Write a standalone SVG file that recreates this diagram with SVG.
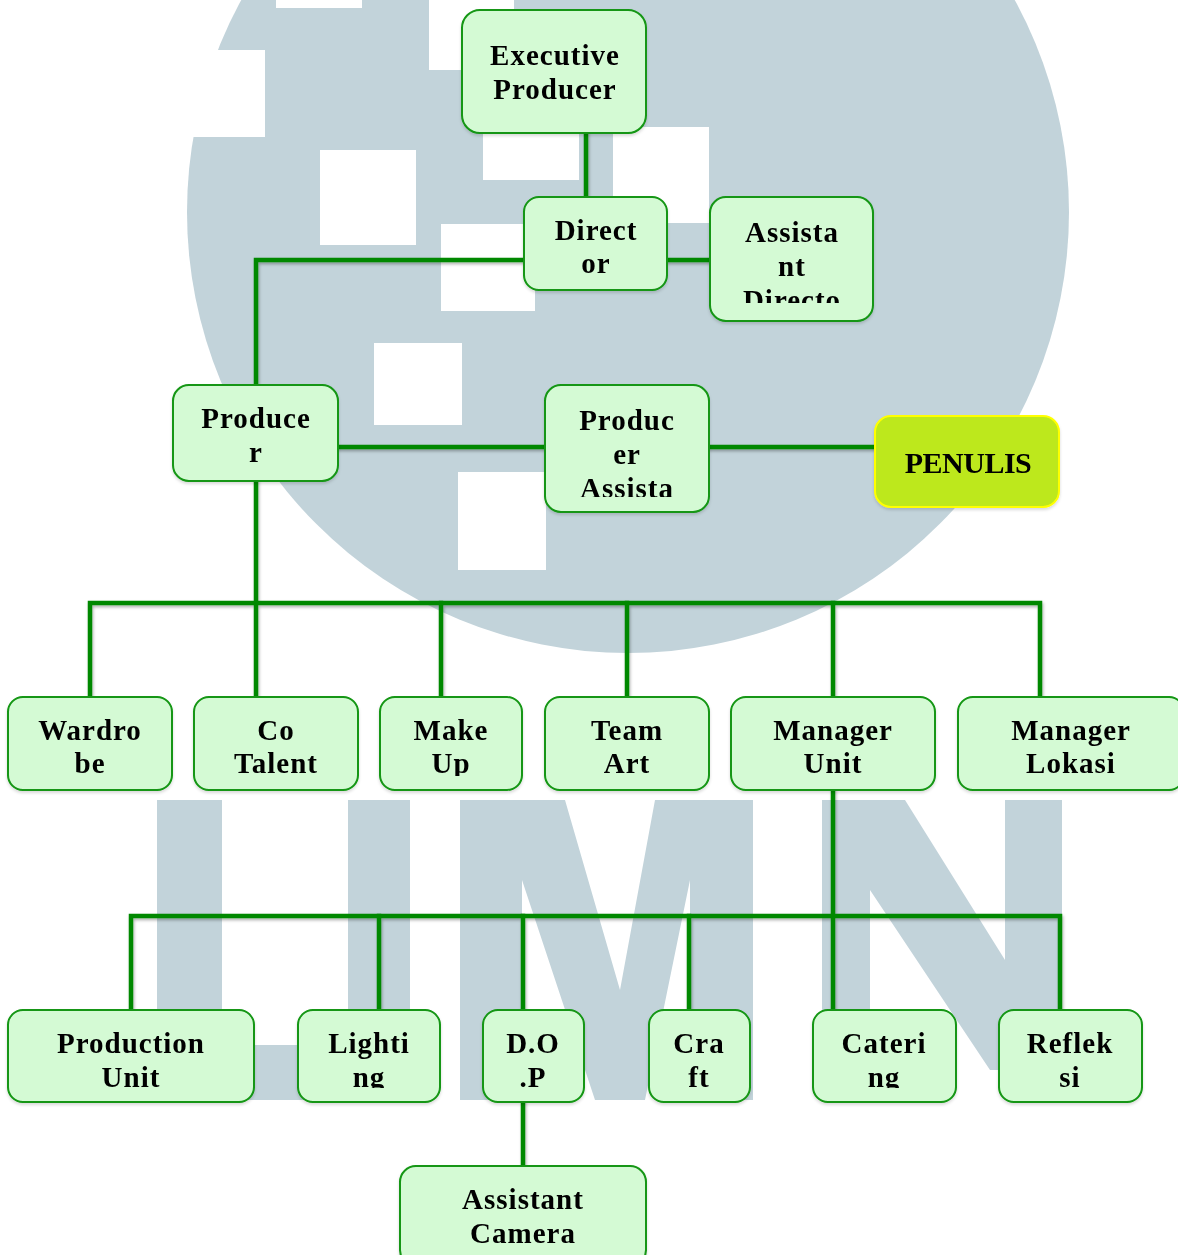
<svg xmlns="http://www.w3.org/2000/svg" width="1178" height="1255" viewBox="0 0 1178 1255">
<style>
.wm{fill:#c2d3da}
.wh{fill:#ffffff}
.node{fill:#d4fad4;stroke:#129612;stroke-width:2}
.pen{fill:#bde81c;stroke:#ffff00;stroke-width:2}
.t{font-family:"Liberation Serif","Times New Roman",serif;font-weight:bold;font-size:29px;letter-spacing:1px;fill:#000;text-anchor:middle}
.tp{font-family:"Liberation Serif","Times New Roman",serif;font-weight:bold;font-size:30px;letter-spacing:-0.5px;fill:#000;text-anchor:middle}
.ln{fill:none;stroke:#068806;stroke-width:4.5;stroke-linecap:square}
</style>
<defs>
<filter id="sh" x="-5%" y="-5%" width="110%" height="110%">
<feDropShadow dx="1" dy="2" stdDeviation="1.5" flood-color="#000" flood-opacity="0.3"/>
</filter>
<filter id="nsh" x="-5%" y="-5%" width="110%" height="115%">
<feDropShadow dx="0" dy="2" stdDeviation="1.5" flood-color="#000" flood-opacity="0.15"/>
</filter>
<clipPath id="c-ad"><rect x="710" y="197" width="163" height="106"/></clipPath>
<clipPath id="c-pa"><rect x="545" y="385" width="164" height="112"/></clipPath>
<clipPath id="c-mu"><rect x="380" y="697" width="142" height="79"/></clipPath>
<clipPath id="c-li"><rect x="298" y="1010" width="142" height="78"/></clipPath>
<clipPath id="c-ca"><rect x="813" y="1010" width="143" height="78"/></clipPath>
</defs>
<rect width="1178" height="1255" fill="#ffffff"/>
<g id="watermark">
<circle class="wm" cx="628" cy="212" r="441"/>
<rect class="wh" x="180" y="50" width="85" height="87"/>
<rect class="wh" x="276" y="0" width="86" height="8"/>
<rect class="wh" x="429" y="0" width="85" height="70"/>
<rect class="wh" x="320" y="150" width="96" height="95"/>
<rect class="wh" x="483" y="128" width="96" height="52"/>
<rect class="wh" x="613" y="127" width="96" height="96"/>
<rect class="wh" x="441" y="224" width="94" height="87"/>
<rect class="wh" x="374" y="343" width="88" height="82"/>
<rect class="wh" x="458" y="472" width="88" height="98"/>
<path class="wm" d="M157,800 H222 V1045 H348 V800 H410 V1100 H157 Z"/>
<path class="wm" d="M460,800 H565 L620,990 L655,800 H753 V1100 H690 V880 L645,1100 H595 L522,880 V1100 H460 Z"/>
<path class="wm" d="M822,800 H905 L1005,960 V800 H1062 V1070 H990 L870,890 V1085 H822 Z"/>
</g>
<g id="connectors" filter="url(#sh)">
<path class="ln" d="M586,133 V197"/>
<path class="ln" d="M667,260 H710"/>
<path class="ln" d="M524,260 H256 V385"/>
<path class="ln" d="M338,447 H545"/>
<path class="ln" d="M709,447 H875"/>
<path class="ln" d="M256,481 V697"/>
<path class="ln" d="M90,697 V603 H1040 V697"/>
<path class="ln" d="M441,603 V697"/>
<path class="ln" d="M627,603 V697"/>
<path class="ln" d="M833,603 V697"/>
<path class="ln" d="M833,790 V1010"/>
<path class="ln" d="M131,1010 V916 H1060 V1010"/>
<path class="ln" d="M379,916 V1010"/>
<path class="ln" d="M523,916 V1010"/>
<path class="ln" d="M689,916 V1010"/>
<path class="ln" d="M523,1102 V1166"/>
</g>
<g id="n-executive-producer" filter="url(#nsh)"><rect class="node" x="462" y="10" width="184" height="123" rx="18"/><text class="t" x="555" y="65">Executive</text><text class="t" x="555" y="99">Producer</text></g>
<g id="n-director" filter="url(#nsh)"><rect class="node" x="524" y="197" width="143" height="93" rx="15"/><text class="t" x="596" y="240">Direct</text><text class="t" x="596" y="273">or</text></g>
<g id="n-assistant-director" filter="url(#nsh)"><rect class="node" x="710" y="197" width="163" height="124" rx="16"/><g clip-path="url(#c-ad)"><text class="t" x="792" y="242">Assista</text><text class="t" x="792" y="276">nt</text><text class="t" x="792" y="310">Directo</text></g></g>
<g id="n-producer" filter="url(#nsh)"><rect class="node" x="173" y="385" width="165" height="96" rx="16"/><text class="t" x="256" y="428">Produce</text><text class="t" x="256" y="462">r</text></g>
<g id="n-producer-assistant" filter="url(#nsh)"><rect class="node" x="545" y="385" width="164" height="127" rx="16"/><g clip-path="url(#c-pa)"><text class="t" x="627" y="430">Produc</text><text class="t" x="627" y="464">er</text><text class="t" x="627" y="498">Assista</text></g></g>
<g id="n-penulis" filter="url(#nsh)"><rect class="pen" x="875" y="416" width="184" height="91" rx="16"/><text class="tp" x="968" y="473">PENULIS</text></g>
<g id="n-wardrobe" filter="url(#nsh)"><rect class="node" x="8" y="697" width="164" height="93" rx="15"/><text class="t" x="90" y="740">Wardro</text><text class="t" x="90" y="773">be</text></g>
<g id="n-co-talent" filter="url(#nsh)"><rect class="node" x="194" y="697" width="164" height="93" rx="15"/><text class="t" x="276" y="740">Co</text><text class="t" x="276" y="773">Talent</text></g>
<g id="n-make-up" filter="url(#nsh)"><rect class="node" x="380" y="697" width="142" height="93" rx="15"/><g clip-path="url(#c-mu)"><text class="t" x="451" y="740">Make</text><text class="t" x="451" y="773">Up</text></g></g>
<g id="n-team-art" filter="url(#nsh)"><rect class="node" x="545" y="697" width="164" height="93" rx="15"/><text class="t" x="627" y="740">Team</text><text class="t" x="627" y="773">Art</text></g>
<g id="n-manager-unit" filter="url(#nsh)"><rect class="node" x="731" y="697" width="204" height="93" rx="15"/><text class="t" x="833" y="740">Manager</text><text class="t" x="833" y="773">Unit</text></g>
<g id="n-manager-lokasi" filter="url(#nsh)"><rect class="node" x="958" y="697" width="226" height="93" rx="15"/><text class="t" x="1071" y="740">Manager</text><text class="t" x="1071" y="773">Lokasi</text></g>
<g id="n-production-unit" filter="url(#nsh)"><rect class="node" x="8" y="1010" width="246" height="92" rx="15"/><text class="t" x="131" y="1053">Production</text><text class="t" x="131" y="1087">Unit</text></g>
<g id="n-lighting" filter="url(#nsh)"><rect class="node" x="298" y="1010" width="142" height="92" rx="15"/><g clip-path="url(#c-li)"><text class="t" x="369" y="1053">Lighti</text><text class="t" x="369" y="1087">ng</text></g></g>
<g id="n-dop" filter="url(#nsh)"><rect class="node" x="483" y="1010" width="101" height="92" rx="15"/><text class="t" x="533" y="1053">D.O</text><text class="t" x="533" y="1087">.P</text></g>
<g id="n-craft" filter="url(#nsh)"><rect class="node" x="649" y="1010" width="101" height="92" rx="15"/><text class="t" x="699" y="1053">Cra</text><text class="t" x="699" y="1087">ft</text></g>
<g id="n-catering" filter="url(#nsh)"><rect class="node" x="813" y="1010" width="143" height="92" rx="15"/><g clip-path="url(#c-ca)"><text class="t" x="884" y="1053">Cateri</text><text class="t" x="884" y="1087">ng</text></g></g>
<g id="n-refleksi" filter="url(#nsh)"><rect class="node" x="999" y="1010" width="143" height="92" rx="15"/><text class="t" x="1070" y="1053">Reflek</text><text class="t" x="1070" y="1087">si</text></g>
<g id="n-assistant-camera" filter="url(#nsh)"><rect class="node" x="400" y="1166" width="246" height="100" rx="16"/><text class="t" x="523" y="1209">Assistant</text><text class="t" x="523" y="1243">Camera</text></g>
</svg>
